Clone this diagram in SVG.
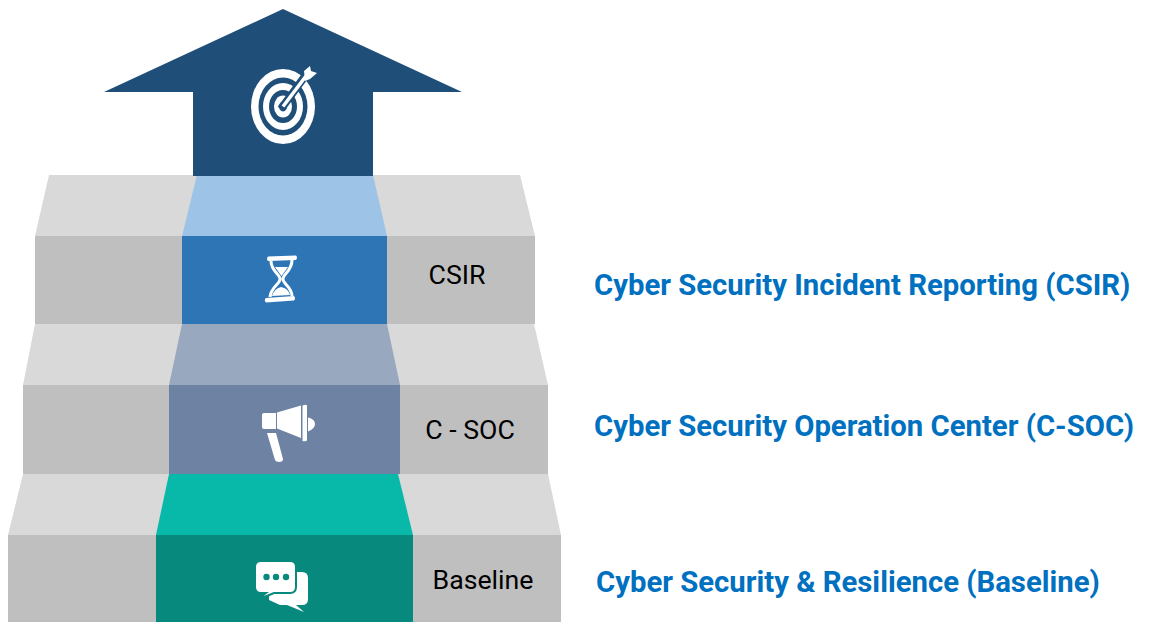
<svg xmlns="http://www.w3.org/2000/svg" width="1149" height="622" viewBox="0 0 1149 622">
<style>
.top{fill:#d9d9d9}.front{fill:#bfbfbf}
.lab{font:26.700px Roboto,"Liberation Sans",sans-serif;fill:#000}
.cap{font:bold 29.300px Roboto,"Liberation Sans",sans-serif;fill:#0070c0}
.w{fill:#fff}.b{fill:#1f4e79}
</style>
<rect width="1149" height="622" fill="#fff"/>
<g id="step-baseline">
<polygon class="top" points="23,474 548,474 561,535 8,535"/>
<rect class="front" x="8" y="535" width="553" height="87"/>
<polygon points="169,474 398,474 413,535 156,535" fill="#08b8a8"/>
<rect x="156" y="535" width="257" height="87" fill="#078a7d"/>
<text class="lab" x="483" y="589" text-anchor="middle">Baseline</text>
<g id="icon-chat">
<path class="w" d="M270,572H302Q308,572 308,578V599Q308,605 302,605H296L304,612L287,605H280L269,600Z"/>
<path d="M261,561H290Q296,561 296,567V587Q296,593 290,593H274L257,600L266,593H261Q255,593 255,587V567Q255,561 261,561Z" class="w" stroke="#078a7d" stroke-width="2"/>
<circle cx="266.500" cy="577" r="3.200" fill="#078a7d"/><circle cx="276" cy="577" r="3.200" fill="#078a7d"/><circle cx="286" cy="577" r="3.200" fill="#078a7d"/>
</g>
</g>
<g id="step-csoc">
<polygon class="top" points="35,324 534,324 548,385 23,385"/>
<rect class="front" x="23" y="385" width="525" height="89"/>
<polygon points="182,324 387,324 400,385 169,385" fill="#98a8bf"/>
<rect x="169" y="385" width="231" height="89" fill="#6e83a4"/>
<text class="lab" x="470" y="439" text-anchor="middle">C - SOC</text>
<g id="icon-megaphone">
<path class="w" d="M264,413H276V429H264Q262,429 262,427V415Q262,413 264,413ZM277,412.500L301,405.500V438L277,428.500ZM302.500,405.500Q307,404 307,406V440Q307,442 302.500,441ZM308,417.500Q315,419 315,424Q315,429 308,431.500ZM267,433H276L283,459Q283,462 279,462Q276,462 275,460Z"/>
</g>
</g>
<g id="step-csir">
<polygon class="top" points="49,175 520,175 535,236 35,236"/>
<rect class="front" x="35" y="236" width="500" height="88"/>
<polygon points="197,175 373,175 387,236 182,236" fill="#9dc3e6"/>
<rect x="182" y="236" width="205" height="88" fill="#2e75b6"/>
<text class="lab" x="457" y="284" text-anchor="middle">CSIR</text>
<g id="icon-hourglass">
<path class="w" d="M268,256.500L296,255.500Q298,257.500 296,260L268,261Q266,259 268,256.500ZM266,298L294,296Q296,298.500 294,300.500L266,302.500Q263.500,300 266,298Z"/>
<path d="M271,261C271,271 280,274 280,279C280,284 271,287 270,297M292,260C292,271 283,274 283,279C283,284 292,287 292,296" fill="none" stroke="#fff" stroke-width="3"/>
<path class="w" d="M275,267H288L281.500,276ZM272,296Q274,289 281,287Q288,288 290,295Z"/>
</g>
</g>
<g id="goal-arrow">
<polygon points="283,9 462,92 373,92 373,176 193,176 193,92 104,92" fill="#1f4e79"/>
<g id="icon-target">
<ellipse class="w" cx="283" cy="106.500" rx="32" ry="37.500"/>
<ellipse class="b" cx="283" cy="106.500" rx="24.500" ry="29"/>
<ellipse class="w" cx="283" cy="106.500" rx="20" ry="23.500"/>
<ellipse class="b" cx="283" cy="106.500" rx="14" ry="16.500"/>
<ellipse class="w" cx="283" cy="106.500" rx="9" ry="11"/>
<ellipse class="b" cx="283" cy="106.500" rx="4" ry="5"/>
<path d="M281,109L308,72" stroke="#1f4e79" stroke-width="8" fill="none"/>
<path d="M283,106.500L306,76" stroke="#fff" stroke-width="3.500" fill="none"/>
<path class="w" d="M304,71L310,66L311,71L317,73L310,79L305,81Z"/>
</g>
</g>
<g id="captions">
<text class="cap" x="594" y="295">Cyber Security Incident Reporting (CSIR)</text>
<text class="cap" x="594" y="436">Cyber Security Operation Center (C-SOC)</text>
<text class="cap" x="596" y="592">Cyber Security &amp; Resilience (Baseline)</text>
</g>
</svg>
